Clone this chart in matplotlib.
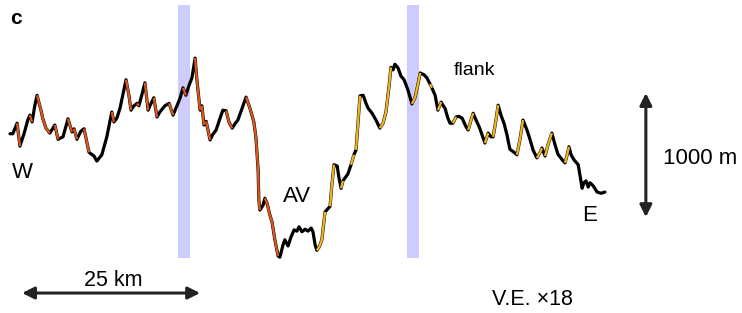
import matplotlib
matplotlib.use("Agg")
import matplotlib.pyplot as plt

# along-profile distance (km), W -> E
dist_km = [
    0.0, 0.4, 1.0, 1.4, 2.0, 2.5, 2.8, 3.1, 3.5, 3.8, 4.35, 4.6, 5.05, 5.6, 6.3, 6.75,
    7.45, 8.15, 8.7, 9.0, 9.4, 9.95, 10.4, 11.1, 11.8, 12.2, 12.9, 13.6, 14.3, 14.6,
    15.0, 15.45, 16.3, 16.7, 17.0, 17.4, 17.85, 18.1, 18.55, 18.95, 19.4, 19.65, 20.2,
    20.65, 21.05, 21.75, 22.35, 22.9, 23.45, 23.9, 24.3, 24.7, 25.15, 25.55, 26.0,
    26.25, 26.55, 26.7, 26.95, 27.25, 27.55, 28.1, 28.5, 28.95, 29.5, 29.9, 30.35,
    30.75, 31.2, 31.6, 32.0, 32.6, 33.15, 33.7, 34.25, 34.55, 34.85, 34.95, 35.1,
    35.55, 35.8, 36.1, 36.5, 36.8, 37.2, 37.65, 37.9, 38.35, 38.6, 39.05, 39.45, 39.9,
    40.3, 40.6, 41.0, 41.45, 41.85, 42.3, 42.55, 42.85, 43.1, 43.4, 43.8, 44.25, 44.95,
    45.2, 45.5, 45.95, 46.2, 46.5, 46.75, 47.45, 47.9, 48.3, 48.6, 48.9, 49.15, 49.6,
    50.0, 50.3, 50.85, 51.4, 51.95, 52.4, 52.8, 53.25, 53.5, 53.8, 54.05, 54.5, 54.9,
    55.35, 55.9, 56.45, 56.9, 57.3, 57.6, 58.15, 58.55, 59.0, 59.25, 59.7, 60.1, 60.55,
    60.8, 61.1, 61.5, 61.8, 62.2, 62.65, 63.05, 63.5, 64.05, 64.35, 64.75, 65.05,
    65.45, 65.9, 66.3, 66.7, 67.15, 67.55, 67.85, 68.25, 68.55, 68.95, 69.4, 69.8,
    70.2, 70.8, 71.2, 71.65, 72.05, 72.6, 73.05, 73.45, 74.0, 74.45, 74.7, 75.15,
    75.55, 76.1, 76.55, 76.95, 77.55, 77.95, 78.25, 78.5, 78.8, 79.2, 79.8, 80.05,
    80.35, 80.6, 80.9, 81.2, 81.45, 81.9, 82.45, 83.0, 83.55,
]

# seafloor depth (m)
depth_m = [
    -2610, -2610, -2525, -2710, -2605, -2500, -2460, -2515, -2380, -2300, -2420, -2485,
    -2565, -2605, -2540, -2655, -2635, -2490, -2595, -2570, -2655, -2590, -2570, -2760,
    -2790, -2830, -2780, -2635, -2435, -2515, -2485, -2405, -2175, -2300, -2420, -2385,
    -2365, -2385, -2290, -2200, -2420, -2385, -2320, -2475, -2435, -2385, -2365, -2460,
    -2385, -2320, -2240, -2300, -2220, -2160, -2000, -2175, -2340, -2420, -2385, -2540,
    -2510, -2660, -2615, -2580, -2485, -2420, -2425, -2515, -2565, -2530, -2500, -2405,
    -2315, -2405, -2515, -2645, -2905, -3145, -3225, -3185, -3130, -3170, -3265, -3320,
    -3465, -3595, -3605, -3505, -3465, -3515, -3445, -3385, -3395, -3360, -3400, -3380,
    -3395, -3370, -3400, -3505, -3550, -3525, -3465, -3240, -3195, -3025, -2860, -2870,
    -2965, -3050, -2990, -2935, -2860, -2780, -2740, -2500, -2305, -2300, -2365, -2405,
    -2445, -2500, -2565, -2525, -2435, -2220, -2075, -2095, -2050, -2080, -2145, -2175,
    -2260, -2370, -2315, -2210, -2120, -2135, -2160, -2210, -2240, -2300, -2420, -2355,
    -2380, -2405, -2485, -2525, -2525, -2475, -2470, -2485, -2555, -2580, -2500, -2445,
    -2500, -2555, -2620, -2685, -2605, -2635, -2635, -2500, -2380, -2460, -2530, -2620,
    -2735, -2760, -2780, -2645, -2500, -2580, -2660, -2740, -2805, -2760, -2725, -2790,
    -2700, -2605, -2700, -2775, -2820, -2845, -2780, -2715, -2780, -2820, -2860, -2945,
    -3050, -3005, -2990, -3040, -3005, -3030, -3080, -3090, -3080,
]

# scarp class of the segment starting at each point: k none, o west side, y east side
scarp = list(
    "kkokkkokko" "oookokkoko" "kkokkkkkok" "kkookkokko" "kkokkkokkk"
    "okkkoookok" "okkkkkookk" "kkooooookk" "oooookkkkk" "kkkkkkkkkk"
    "yyykyykkky" "kkykyykkkk" "kkyyyykkkk" "kkkyyykkky" "kkykkkkkyk"
    "kkkyykkkky" "kkyykkkkkk" "yykkkkyyky" "ykkkkyykkk" "kkkkkkkkkkk"
)

scarp_colors = {"o": "#d9561e", "y": "#f0b31e"}
bands_km = [(23.6, 25.3), (55.8, 57.4)]

fig = plt.figure(figsize=(7.42, 3.13), dpi=100)
ax = fig.add_axes([0, 0, 1, 1])
ax.set_xlim(-1.4, 102.8)
ax.set_ylim(-4055, -1532)
ax.axis("off")

for x0, x1 in bands_km:
    ax.axvspan(x0, x1, ymin=0.176, ymax=0.984, color="#ccccff", lw=0, zorder=0)

ax.plot(dist_km, depth_m, color="black", lw=2.3, solid_joinstyle="round",
        solid_capstyle="round", zorder=2)

# colour runs of scarp segments
i = 0
n = len(dist_km) - 1
while i < n:
    c = scarp[i]
    if c == "k":
        i += 1
        continue
    j = i
    while j < n and scarp[j] == c:
        j += 1
    ax.plot(dist_km[i:j + 1], depth_m[i:j + 1], color=scarp_colors[c], lw=1.7,
            solid_joinstyle="round", solid_capstyle="butt", zorder=3)
    i = j

sans = ["Liberation Sans", "DejaVu Sans"]
narrow = ["Liberation Sans Narrow", "Liberation Sans", "DejaVu Sans"]

ax.text(0.013, 0.942, "c", transform=ax.transAxes, fontsize=15, fontweight="bold",
        family=sans, va="center", ha="left")
ax.text(0.030, 0.450, "W", transform=ax.transAxes, fontsize=16, family=sans,
        va="center", ha="center")
ax.text(0.400, 0.371, "AV", transform=ax.transAxes, fontsize=16, family=sans,
        va="center", ha="center")
ax.text(0.640, 0.776, "flank", transform=ax.transAxes, fontsize=14, family=sans,
        va="center", ha="center")
ax.text(0.794, 0.313, "E", transform=ax.transAxes, fontsize=16, family=sans,
        va="center", ha="center")
ax.text(0.943, 0.495, "1000 m", transform=ax.transAxes, fontsize=16, family=sans,
        va="center", ha="center")
ax.text(0.152, 0.105, "25 km", transform=ax.transAxes, fontsize=15.5, family=narrow,
        va="center", ha="center")
ax.text(0.718, 0.042, "V.E. ×18", transform=ax.transAxes, fontsize=15.5, family=narrow,
        va="center", ha="center")

arrow = dict(arrowstyle="<|-|>", color="#222222", lw=2.2, mutation_scale=18,
             shrinkA=0, shrinkB=0)
ax.annotate("", xy=(1.7, -3894), xytext=(26.7, -3894), arrowprops=arrow)
ax.annotate("", xy=(89.3, -2282), xytext=(89.3, -3282), arrowprops=arrow)

fig.savefig("out.png", dpi=100)
